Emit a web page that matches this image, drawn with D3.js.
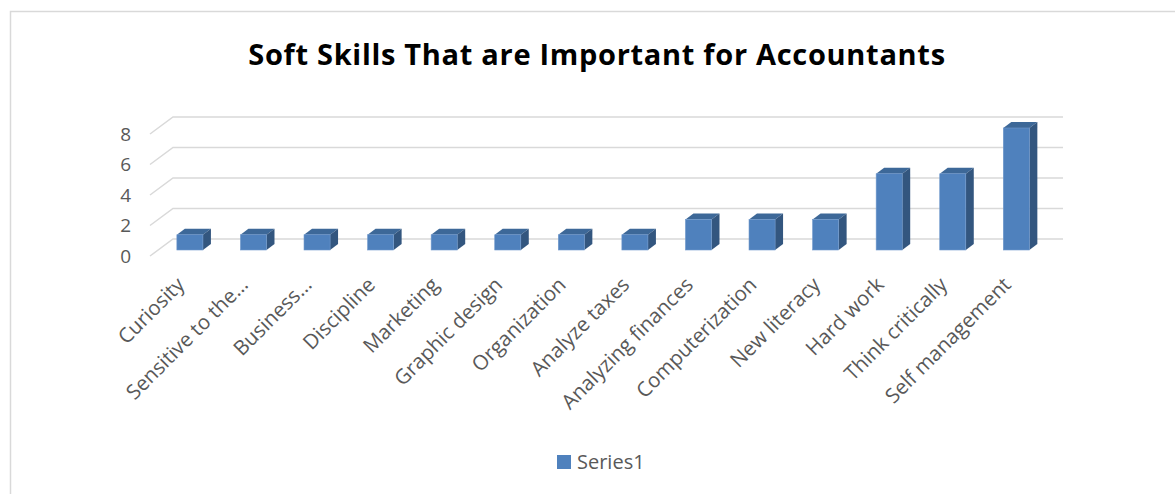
<!DOCTYPE html>
<html>
<head>
<meta charset="utf-8">
<script src="https://cdn.jsdelivr.net/npm/d3@7"></script>
<style>
  body { margin: 0; background: #fff; }
  svg text { font-family: "Open Sans", Lato, sans-serif; }
</style>
</head>
<body>
<div id="chart"></div>
<script>
const categories = ["Curiosity", "Sensitive to the…", "Business…", "Discipline", "Marketing",
    "Graphic design", "Organization", "Analyze taxes", "Analyzing finances", "Computerization",
    "New literacy", "Hard work", "Think critically", "Self management"]
const series1 = [1, 1, 1, 1, 1, 1, 1, 1, 2, 2, 2, 5, 5, 8]
const yTicks = [0, 2, 4, 6, 8]
const seriesName = "Series1"
const chartTitle = "Soft Skills That are Important for Accountants"

const width = 1175, height = 494
// oblique offset for full depth of the 3d box
const depthX = 23, depthY = -17
const barFront = 0.353, barBack = 0.70

const svg = d3.select("#chart").append("svg")
    .attr("width", width)
    .attr("height", height)

// chart area border
svg.append("rect")
    .attr("x", 10.5).attr("y", 11.5)
    .attr("width", 1300).attr("height", 600)
    .style("fill", "none")
    .style("stroke", "#d9d9d9")
    .style("stroke-width", 1.5)

svg.append("text")
    .attr("x", 597).attr("y", 65)
    .attr("text-anchor", "middle")
    .style("font-size", "29px")
    .style("font-weight", "bold")
    .style("letter-spacing", "0.7px")
    .style("fill", "#000")
    .text(chartTitle)

const x = d3.scaleBand()
    .domain(categories)
    .range([150, 1040])
    .paddingInner(0.59)
    .paddingOuter(0.295)

const y = d3.scaleLinear()
    .domain([0, 8])
    .range([256, 134])

const px = (xv, d) => xv + depthX * d
const py = (yv, d) => yv + depthY * d

// gridlines: side diagonal + back wall line
const grid = svg.append("g")
    .style("stroke", "#d9d9d9")
    .style("stroke-width", 1.5)
    .style("fill", "none")

yTicks.forEach(t => {
    const x0 = x.range()[0], x1 = x.range()[1]
    grid.append("path")
        .attr("d", d3.line()([[px(x0, 0), py(y(t), 0)], [px(x0, 1), py(y(t), 1)], [px(x1, 1), py(y(t), 1)]]))
})

svg.append("g")
    .selectAll("text")
    .data(yTicks)
    .join("text")
    .attr("x", 131)
    .attr("y", d => y(d))
    .attr("dy", "0.36em")
    .attr("text-anchor", "end")
    .style("font-size", "19px")
    .style("fill", "#595959")
    .text(d => d)

// bars
const bars = svg.append("g")
    .selectAll("g")
    .data(categories.map((c, i) => ({ c, v: series1[i] })))
    .join("g")

const bw = x.bandwidth()

bars.append("path")
    .style("fill", "#3d6898")
    .attr("d", d => {
        const x0 = x(d.c), yt = y(d.v)
        return d3.line()([
            [px(x0, barFront), py(yt, barFront)],
            [px(x0 + bw, barFront), py(yt, barFront)],
            [px(x0 + bw, barBack), py(yt, barBack)],
            [px(x0, barBack), py(yt, barBack)]
        ]) + "Z"
    })

bars.append("path")
    .style("fill", "#33567f")
    .attr("d", d => {
        const x1 = x(d.c) + bw, yt = y(d.v), yb = y(0)
        return d3.line()([
            [px(x1, barFront), py(yt, barFront)],
            [px(x1, barBack), py(yt, barBack)],
            [px(x1, barBack), py(yb, barBack)],
            [px(x1, barFront), py(yb, barFront)]
        ]) + "Z"
    })

bars.append("rect")
    .style("fill", "#4f81bd")
    .style("stroke", "#6f98cc")
    .style("stroke-width", 0.6)
    .attr("x", d => px(x(d.c), barFront))
    .attr("y", d => py(y(d.v), barFront))
    .attr("width", bw)
    .attr("height", d => y(0) - y(d.v))

// category labels
svg.append("g")
    .selectAll("text")
    .data(categories)
    .join("text")
    .attr("text-anchor", "end")
    .attr("transform", d => `translate(${x(d) + bw / 2 + 4},${286}) rotate(-45)`)
    .style("font-size", "20.5px")
    .style("fill", "#595959")
    .text(d => d)

// legend
svg.append("rect")
    .attr("x", 557).attr("y", 455)
    .attr("width", 14).attr("height", 14)
    .style("fill", "#4f81bd")

svg.append("text")
    .attr("x", 577).attr("y", 469)
    .style("font-size", "20px")
    .style("fill", "#595959")
    .text(seriesName)
</script>
</body>
</html>
